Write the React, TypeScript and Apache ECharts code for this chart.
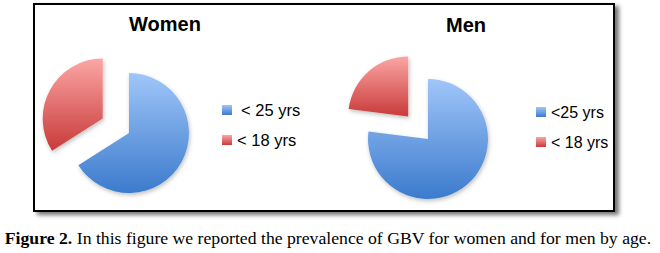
import React, { useEffect, useRef } from "react";
import * as echarts from "echarts";

const womenNames = ["< 25 yrs", "< 18 yrs"];
const womenValues = [66, 34];
const menNames = ["<25 yrs", "< 18 yrs"];
const menValues = [77, 23];
const titles = ["Women", "Men"];
const caption = "In this figure we reported the prevalence of GBV for women and for men by age.";
const captionBold = "Figure 2.";

const blueGrad = () =>
  new echarts.graphic.LinearGradient(0, 0, 0, 1, [
    { offset: 0, color: "#a0c6f9" },
    { offset: 1, color: "#3c7bcd" },
  ]);
const redGrad = () =>
  new echarts.graphic.LinearGradient(0, 0, 0, 1, [
    { offset: 0, color: "#fba6a4" },
    { offset: 1, color: "#c93a3a" },
  ]);

export default function App() {
  const ref = useRef<HTMLDivElement>(null);
  useEffect(() => {
    if (!ref.current) return;
    const chart = echarts.init(ref.current, null, { renderer: "svg" });
    const mk = (names: string[], values: number[], center: number[]) => ({
      type: "pie",
      radius: 60,
      center,
      startAngle: 90,
      clockwise: true,
      selectedMode: "multiple",
      selectedOffset: 30,
      label: { show: false },
      labelLine: { show: false },
      emphasis: { disabled: true },
      itemStyle: { shadowBlur: 4, shadowColor: "rgba(0,0,0,0.25)", shadowOffsetX: 1, shadowOffsetY: 2 },
      data: names.map((n, i) => ({
        name: n,
        value: values[i],
        selected: i === 1,
        itemStyle: { color: i === 0 ? blueGrad() : redGrad() },
      })),
    });
    const legendText = {
      fontFamily: "Liberation Sans",
      fontSize: 16.5,
      color: "#000",
      lineHeight: 20,
      rich: {
        p: { fontFamily: "Liberation Sans", fontSize: 16.5, padding: [0, 0, 0, 4] },
        q: { fontFamily: "Liberation Sans", fontSize: 16.5 },
      },
    };
    chart.setOption({
      animation: false,
      graphic: [
        {
          type: "rect",
          z: 0,
          shape: { x: 34, y: 4, width: 580, height: 207 },
          style: {
            fill: "#fff",
            stroke: "#000",
            lineWidth: 2,
            shadowBlur: 4,
            shadowOffsetX: 4,
            shadowOffsetY: 3,
            shadowColor: "rgba(0,0,0,0.55)",
          },
        },
        {
          type: "text",
          z: 5,
          x: 165,
          y: 24,
          style: { text: titles[0], align: "center", verticalAlign: "middle", fontFamily: "Liberation Sans", fontWeight: "bold", fontSize: 20, fill: "#000" },
        },
        {
          type: "text",
          z: 5,
          x: 466,
          y: 25,
          style: { text: titles[1], align: "center", verticalAlign: "middle", fontFamily: "Liberation Sans", fontWeight: "bold", fontSize: 20, fill: "#000" },
        },
        {
          type: "text",
          z: 5,
          x: 328,
          y: 238,
          style: {
            text: "{b|" + captionBold + "} " + caption,
            align: "center",
            verticalAlign: "middle",
            fontFamily: "Liberation Serif",
            fontSize: 17.7,
            fill: "#000",
            rich: { b: { fontFamily: "Liberation Serif", fontSize: 17.7, fontWeight: "bold", fill: "#000" } },
          },
        },
      ],
      legend: [
        {
          orient: "vertical",
          left: 217,
          top: 95,
          itemWidth: 10,
          itemHeight: 10,
          itemGap: 10,
          icon: "rect",
          selectedMode: false,
          data: womenNames,
          formatter: (n: string) => (n === "< 25 yrs" ? "{p|" + n + "}" : "{q|" + n + "}"),
          textStyle: legendText,
        },
        {
          orient: "vertical",
          left: 531,
          top: 97,
          itemWidth: 10,
          itemHeight: 10,
          itemGap: 10,
          icon: "rect",
          selectedMode: false,
          data: menNames,
          textStyle: { fontFamily: "Liberation Sans", fontSize: 16, color: "#000", lineHeight: 20 },
        },
      ],
      series: [mk(womenNames, womenValues, [129, 133]), mk(menNames, menValues, [428, 139])],
    });
    return () => chart.dispose();
  }, []);
  return (
    <div
      ref={ref}
      style={{ position: "fixed", left: 0, top: 0, width: 660, height: 253, background: "#fff" }}
    />
  );
}
